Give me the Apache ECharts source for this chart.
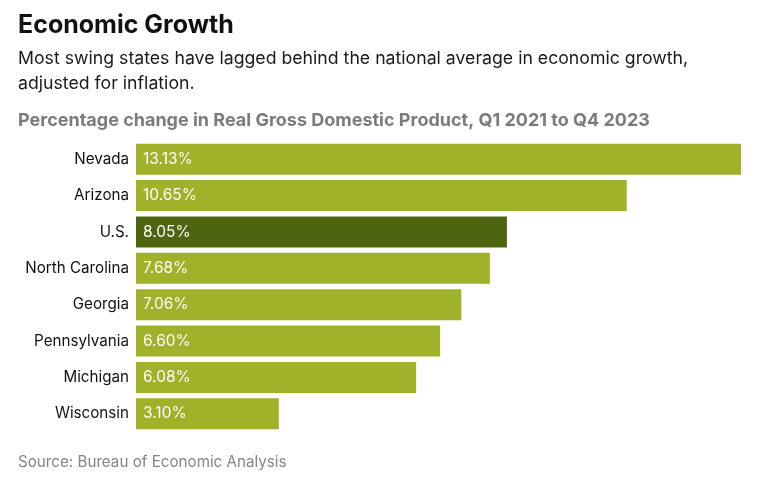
<!DOCTYPE html>
<html><head><meta charset="utf-8">
<script src="https://cdn.jsdelivr.net/npm/echarts@6/dist/echarts.min.js"></script>
<style>html,body{margin:0;padding:0;background:#fff}#c{width:760px;height:484px}</style>
</head><body><div id="c"></div>
<script>
const categories = ["Nevada","Arizona","U.S.","North Carolina","Georgia","Pennsylvania","Michigan","Wisconsin"];
const values = [13.13,10.65,8.05,7.68,7.06,6.60,6.08,3.10];
const highlight = "U.S.";
const FONT = "Inter, 'Noto Sans', sans-serif";
const chart = echarts.init(document.getElementById('c'), null, {renderer:'canvas'});
chart.setOption({
  backgroundColor:'#fff',
  animation:false,
  title:[
    {text:'Economic Growth', left:13, top:8, textStyle:{fontFamily:FONT, fontSize:25, fontWeight:'bold', color:'#111'}},
    {text:'Most swing states have lagged behind the national average in economic growth,\nadjusted for inflation.', left:13, top:41, textStyle:{fontFamily:FONT, fontSize:17.7, fontWeight:'normal', color:'#1a1a1a', lineHeight:25}},
    {text:'Percentage change in Real Gross Domestic Product, Q1 2021 to Q4 2023', left:13, top:107, textStyle:{fontFamily:FONT, fontSize:18, fontWeight:'bold', color:'#7b7b7b'}},
    {text:'Source: Bureau of Economic Analysis', left:13, top:450, textStyle:{fontFamily:FONT, fontSize:15.2, fontWeight:'normal', color:'#858585'}}
  ],
  grid:{left:136, right:19, top:141, bottom:52, containLabel:false},
  xAxis:{type:'value', min:0, max:'dataMax', show:false},
  yAxis:{type:'category', data:categories, inverse:true,
    axisLine:{show:false}, axisTick:{show:false}, splitLine:{show:false},
    axisLabel:{fontFamily:FONT, fontSize:15.2, color:'#111', margin:7}},
  series:[{type:'bar', barCategoryGap:'15%',
    data:values.map((v,i)=>({value:v, itemStyle:{color: categories[i]===highlight ? '#4e6410' : '#a0b22a'}})),
    label:{show:true, position:'insideLeft', distance:7, color:'#fff', fontFamily:FONT, fontSize:15.5,
      formatter:p=>p.value.toFixed(2)+'%'}
  }]
});
</script></body></html>
